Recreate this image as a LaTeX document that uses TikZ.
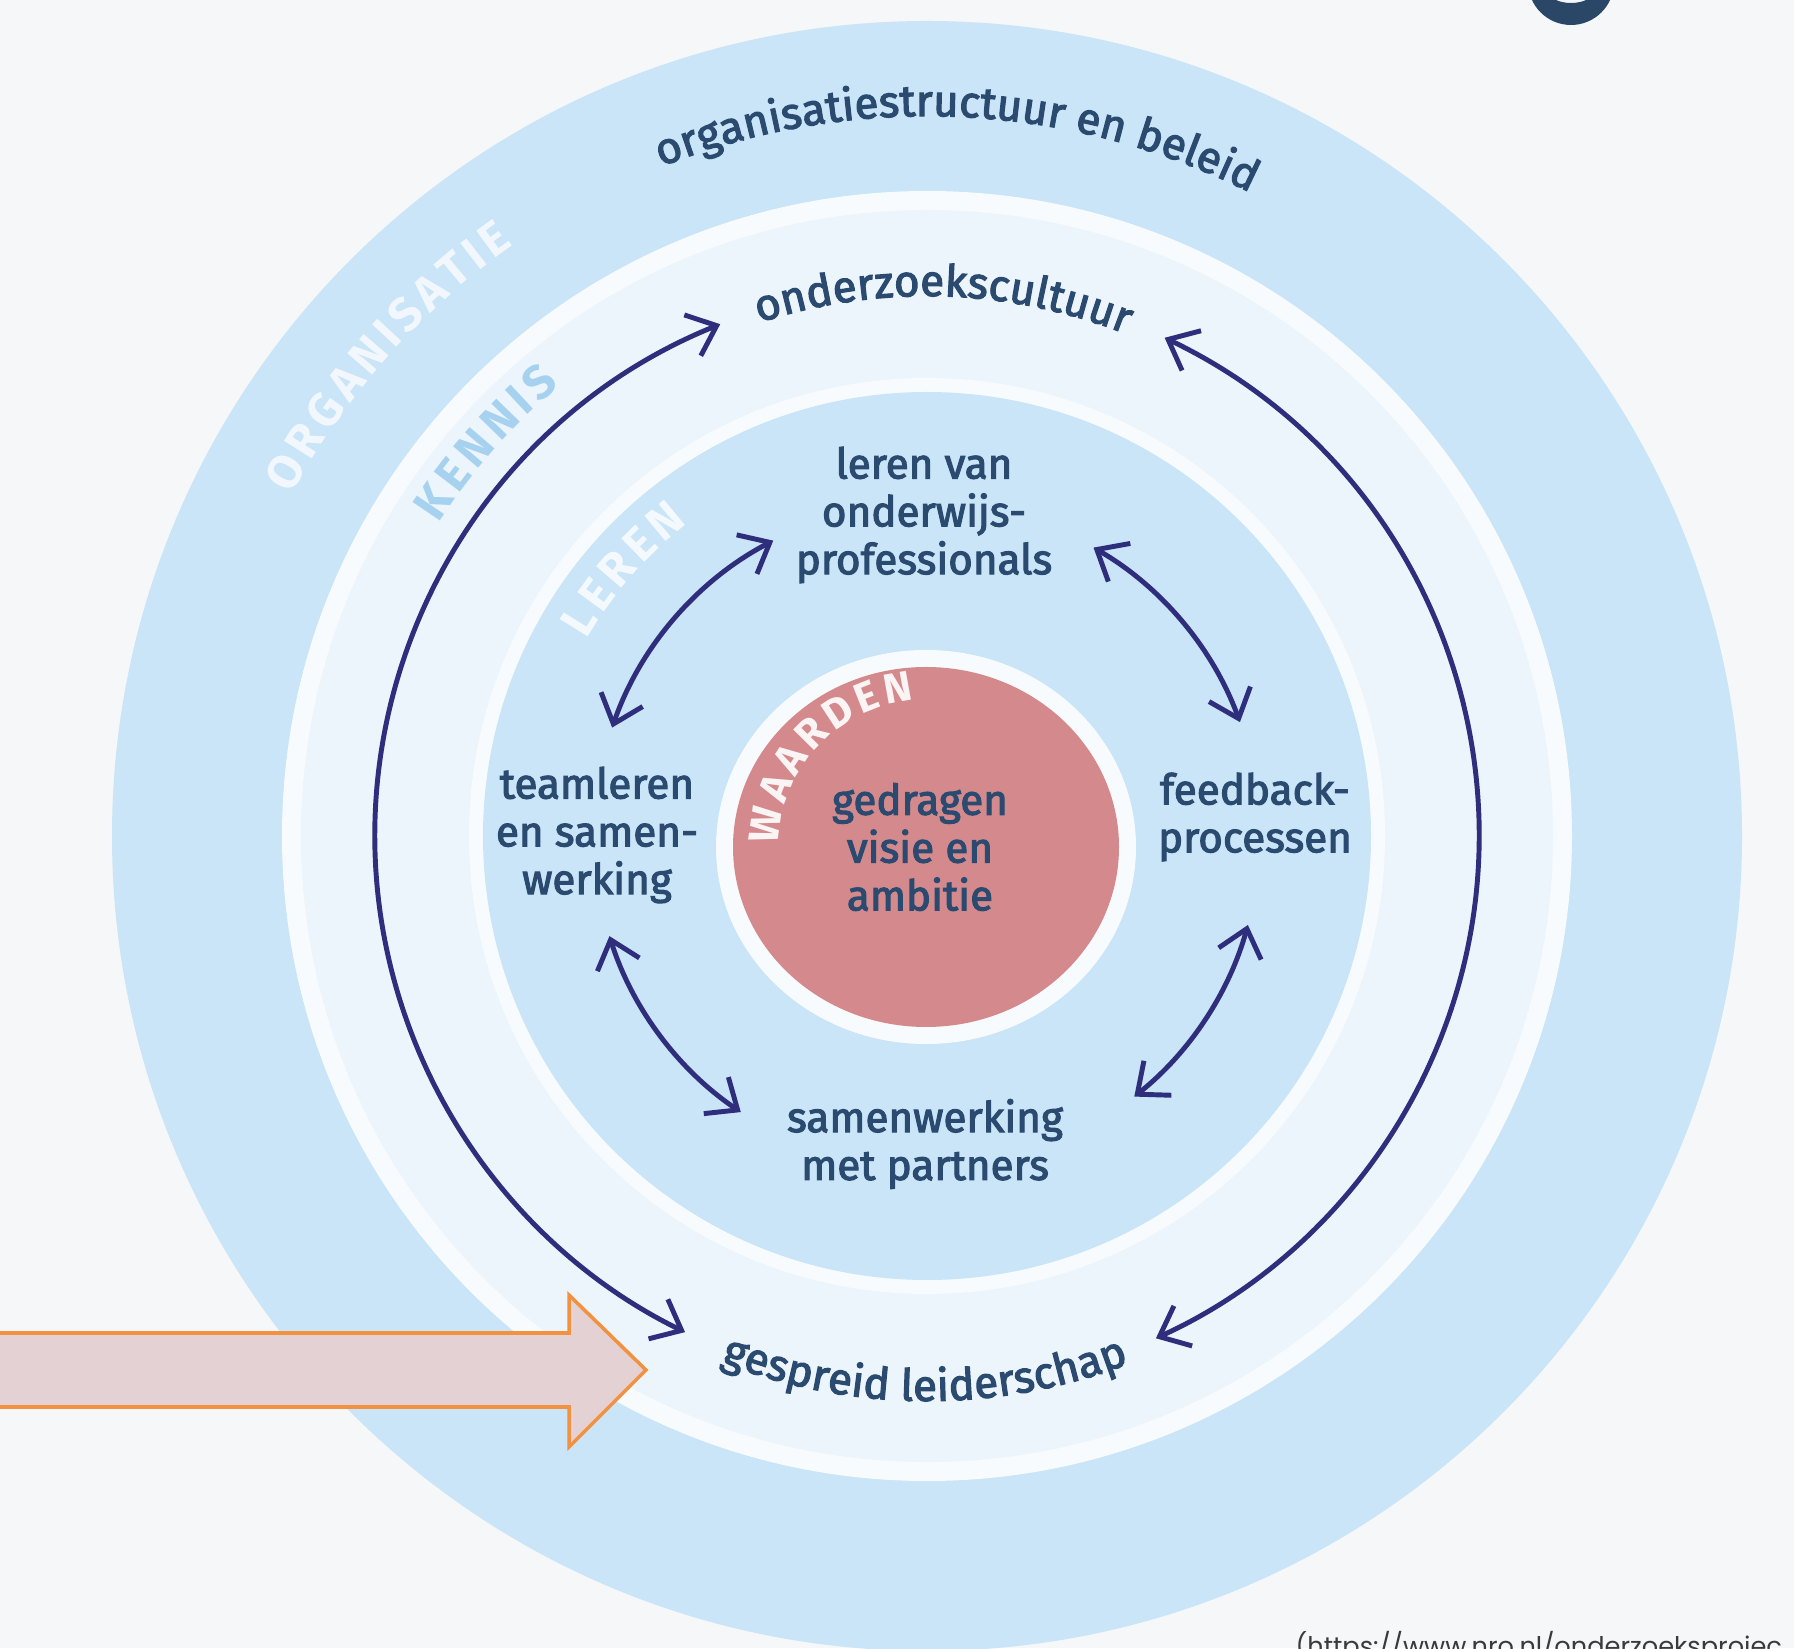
\documentclass[tikz,border=0pt]{standalone}
\usepackage{fontspec}
\setmainfont{Fira Sans}[FakeBold=2.6]
\newfontfamily\capfont{Fira Sans}[WordSpace=0.45]
\newfontfamily\urlfont{Poppins}
\usetikzlibrary{decorations.text,arrows.meta}
\definecolor{bg}{HTML}{F6F7F9}
\definecolor{band}{HTML}{C9E5F7}
\definecolor{ringw}{HTML}{F8FBFD}
\definecolor{kenband}{HTML}{EDF5FC}
\definecolor{pinkc}{HTML}{D48A8D}
\definecolor{txt}{HTML}{2A4A70}
\definecolor{arrowc}{HTML}{2F2E7C}
\definecolor{orgtxt}{HTML}{F1F7FC}
\definecolor{kentxt}{HTML}{A6D2F0}
\definecolor{lertxt}{HTML}{F4F9FD}
\definecolor{waatxt}{HTML}{FBF4F4}
\definecolor{orangec}{HTML}{F2913F}
\definecolor{orangefill}{HTML}{E4D1D3}
\definecolor{navy}{HTML}{2B4768}
\definecolor{urltxt}{HTML}{3A3A3A}
\newcommand{\labsize}{\fontsize{12}{13.6}\selectfont}
\newcommand{\arcsize}{\fontsize{12.5}{14}\selectfont}
\newcommand{\capsize}{\capfont\fontsize{13.5}{14}\selectfont\bfseries}
\begin{document}
\begin{tikzpicture}[x=0.01cm,y=0.01cm,
  lab/.style={text=txt, align=center, font=\labsize, inner sep=0pt},
  arr/.style={draw=arrowc, line width=1.4pt, >={Straight Barb[length=2.6mm,width=4.4mm]}, <->},
  arctext/.style={decorate, decoration={text along path, text align=center, text={#1}}}
]
\useasboundingbox (0,0) rectangle (1794,1648);
\clip (0,0) rectangle (1794,1648);
\fill[bg] (0,0) rectangle (1794,1648);

% centre
\coordinate (C) at (927,812);
\coordinate (P) at (926,801);

% rings
\fill[band] (C) circle[radius=815];
\fill[ringw] (C) circle[radius=645];
\fill[kenband] (C) circle[radius=626];
\fill[ringw] (C) circle[radius=458];
\fill[band] (C) circle[radius=444];
\fill[ringw] (P) ellipse[x radius=210, y radius=197];
\fill[pinkc] (P) ellipse[x radius=193, y radius=180];

% top-right dark glyph
\fill[navy, even odd rule] (1571,1666) circle[radius=43] (1571,1656) ellipse[x radius=22, y radius=11];

% big arrows
\coordinate (bl) at ([shift={(112:552)}]C);
\coordinate (br) at ([shift={(64.5:552)}]C);
\draw[arr] (bl) arc[start angle=112, end angle=244, radius=552];
\draw[arr] (br) arc[start angle=64.5, end angle=-65.5, radius=552];

% inner arrows
\coordinate (ul) at ([shift={(117.5:333)}]C);
\coordinate (ur) at ([shift={(60:333)}]C);
\coordinate (ll) at ([shift={(197.5:333)}]C);
\coordinate (lr) at ([shift={(-15.5:333)}]C);
\draw[arr] (ul) arc[start angle=117.5, end angle=161, radius=333];
\draw[arr] (ur) arc[start angle=60, end angle=20, radius=333];
\draw[arr] (ll) arc[start angle=197.5, end angle=236, radius=333];
\draw[arr] (lr) arc[start angle=-15.5, end angle=-51.5, radius=333];

% straight labels
\node[lab] (lvo) at (924,1133) {leren van\\onderwijs-\\professionals};
\node[lab] (tls) at (597,813) {teamleren\\en samen-\\werking};
\node[lab] (fbp) at (1255,831) {feedback-\\processen};
\node[lab] (smp) at (925,504) {samenwerking\\met partners};
\node[lab] (gva) at (920,801) {gedragen\\visie en\\ambitie};

% curved labels
\path[arctext={|\arcsize\color{txt}|organisatiestructuur en beleid}]
  ([shift={(127.5:720)}]C) arc[start angle=127.5, end angle=47.5, radius=720];
\path[arctext={|\arcsize\color{txt}|onderzoekscultuur}]
  ([shift={(118.25:540)}]C) arc[start angle=118.25, end angle=58.25, radius=540];
\path[arctext={|\arcsize\color{txt}|gespreid leiderschap}]
  ([shift={(239.75:565)}]C) arc[start angle=239.75, end angle=299.75, radius=565];
\path[arctext={|\capsize\color{orgtxt}|O R G A N I S A T I E}]
  ([shift={(168.35:721)}]C) arc[start angle=168.35, end angle=108.35, radius=721];
\path[arctext={|\capsize\color{kentxt}|K E N N I S}]
  ([shift={(163.3:580)}]C) arc[start angle=163.3, end angle=113.3, radius=580];
\path[arctext={|\capsize\color{lertxt}|L E R E N}]
  ([shift={(168.7:393)}]C) arc[start angle=168.7, end angle=108.7, radius=393];
\path[arctext={|\capfont\fontsize{12}{13}\selectfont\bfseries\color{waatxt}|W A A R D E N}]
  ([shift={(196.85:147)}]P) arc[start angle=196.85, end angle=76.85, radius=147];

% orange arrow
\draw[draw=orangec, fill=orangefill, line width=1pt, line join=miter]
  (-10,315) -- (569,315) -- (569,353) -- (646,278) -- (569,201) -- (569,241) -- (-10,241) -- cycle;

% source url
\node[anchor=base west, inner sep=0pt, text=urltxt, font=\urlfont\fontsize{7.3}{9}\selectfont] (url) at (1295,-7) {(https://www.nro.nl/onderzoeksprojec};
\end{tikzpicture}
\end{document}
